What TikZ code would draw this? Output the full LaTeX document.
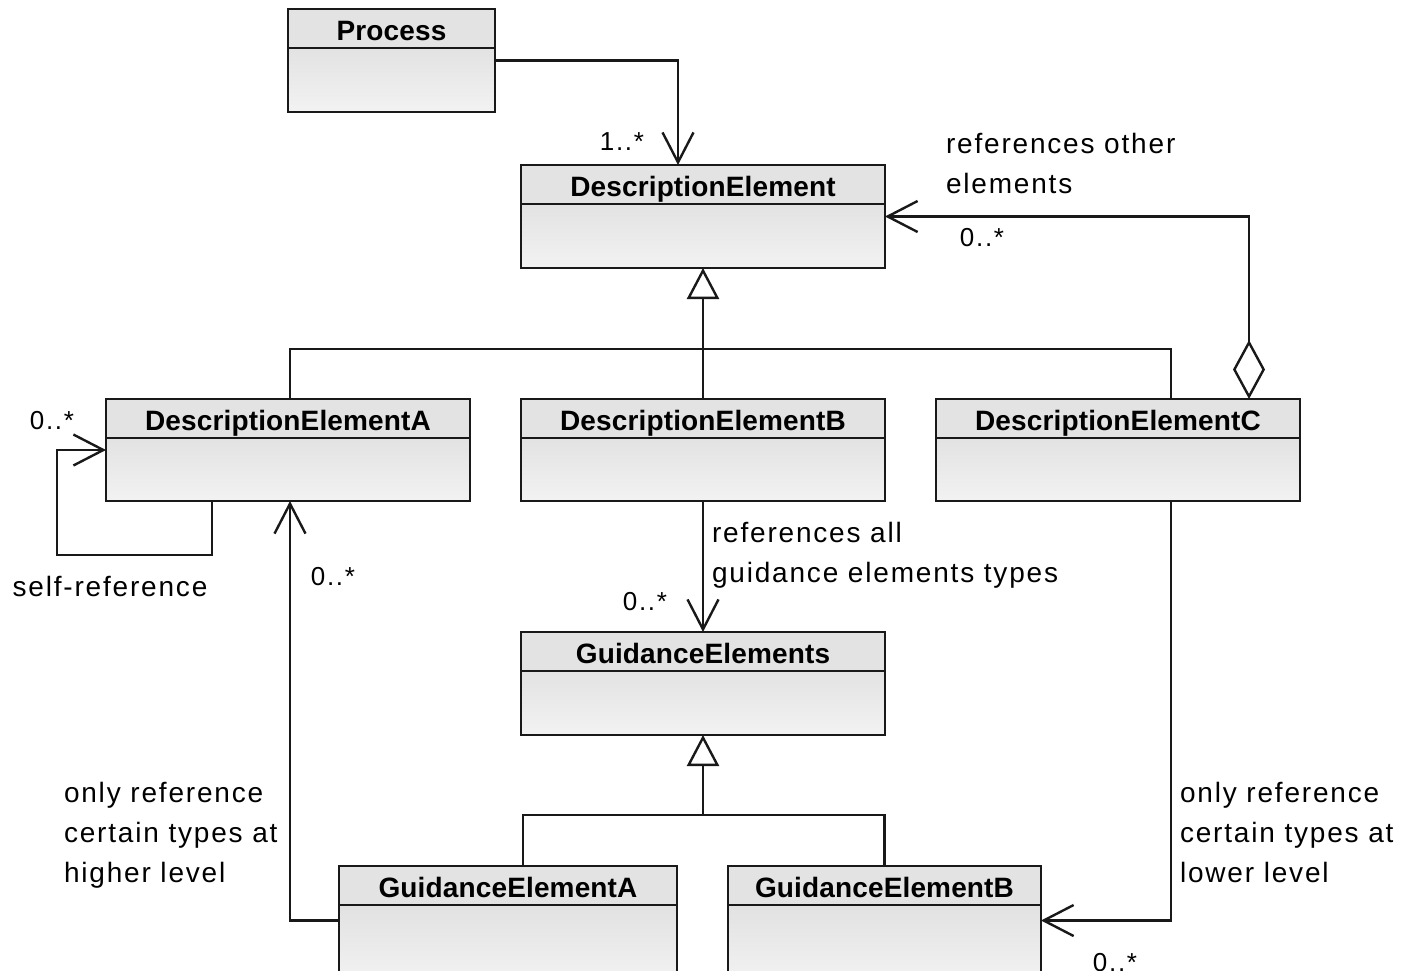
\documentclass[tikz,border=0pt]{standalone}
\usepackage{fontspec}
\setmainfont{Liberation Sans}
\newfontfamily\titlefont[LetterSpace=0.5]{Liberation Sans}
\newfontfamily\notefont[LetterSpace=6.5]{Liberation Sans}
\usetikzlibrary{arrows.meta}

% UML class: body with gradient, header with class name
\newcommand\umlclass[6]{%
  \node[classbody, minimum width=#4pt, minimum height=#5pt, anchor=north west] (#1) at (#2,#3) {};
  \node[classhead, minimum width=#4pt, anchor=north west] (#1 head) at (#1.north west) {#6};
}

\begin{document}
\begin{tikzpicture}[x=1pt, y=-1pt, line width=2.4pt,
  every node/.style={inner sep=0pt, outer sep=0pt},
  classbody/.style={draw=black!90, top color=black!15, bottom color=black!5},
  classhead/.style={draw=black!90, fill=black!11, minimum height=39pt,
    text height=24pt, text depth=0pt,
    font=\titlefont\bfseries\fontsize{28}{32}\selectfont},
  note/.style={font=\notefont\fontsize{28}{40}\selectfont, align=left},
  mult/.style={font=\notefont\fontsize{26}{30}\selectfont},
  assoc/.style={draw=black!90, -{Straight Barb[length=30pt, width=31pt, line width=2.4pt]}},
  gen/.style={draw=black!90, -{Triangle[open, length=31pt, width=32pt, fill=white, line width=2.4pt]}},
  aggr/.style={draw=black!90, {Diamond[open, length=59pt, width=32pt, fill=white, line width=2.4pt]}-{Straight Barb[length=30pt, width=31pt, line width=2.4pt]}},
  tree/.style={draw=black!90}
]
\useasboundingbox (0,0) rectangle (1402,970);

% classes
\umlclass{proc}{288}{9}{207}{103}{Process}
\umlclass{de}{521}{165}{364}{103}{DescriptionElement}
\umlclass{dea}{106}{399}{364}{102}{DescriptionElementA}
\umlclass{deb}{521}{399}{364}{102}{DescriptionElementB}
\umlclass{dec}{936}{399}{364}{102}{DescriptionElementC}
\umlclass{ge}{521}{632}{364}{103}{GuidanceElements}
\umlclass{gea}{339}{866}{338}{115}{GuidanceElementA}
\umlclass{geb}{728}{866}{313}{115}{GuidanceElementB}

% Process -> DescriptionElement
\draw[assoc] (proc.east) -| ([xshift=-25pt]de.north);
\node[mult] (m1) at (622,142) {1..*};

% aggregation from DescriptionElementC
\draw[aggr] ([xshift=131pt]dec.north) |- (de.east);
\node[note, anchor=north west] (n1) at (946,133) {references other\\elements};
\node[mult] (m2) at (982,238) {0..*};

% generalization of DescriptionElement
\coordinate (dejoin) at ([yshift=50pt]deb.north);
\draw[gen] (deb.north) -- (de.south);
\draw[tree] ([xshift=2pt]dea.north) |- (dejoin) -| ([xshift=53pt]dec.north);

% self reference of DescriptionElementA
\draw[assoc] ([xshift=-76pt]dea.south) |- ++(-155,54) |- (dea.west);
\node[mult] (m3) at (52,421) {0..*};
\node[note, anchor=center] (n2) at (110,586) {self-reference};

% GuidanceElementA -> DescriptionElementA
\draw[assoc] ([yshift=3pt]gea.west) -| ([xshift=2pt]dea.south);
\node[mult] (m4) at (333,577) {0..*};
\node[note, anchor=north west] (n3) at (64,782) {only reference\\certain types at\\higher level};

% DescriptionElementB -> GuidanceElements
\draw[assoc] (deb.south) -- (ge.north);
\node[note, anchor=north west] (n4) at (712,522) {references all\\guidance elements types};
\node[mult] (m5) at (645,602) {0..*};

% generalization of GuidanceElements
\coordinate (gejoin) at ([yshift=-80pt]ge.south);
\draw[gen] (gejoin) -- (ge.south);
\draw[tree] ([xshift=15pt]gea.north) |- (gejoin) -| (geb.north);

% DescriptionElementC -> GuidanceElementB
\draw[assoc] ([xshift=53pt]dec.south) |- ([yshift=3pt]geb.west -| geb.east);
\node[note, anchor=north west] (n5) at (1180,782) {only reference\\certain types at\\lower level};
\node[mult] (m6) at (1115,963) {0..*};
\end{tikzpicture}
\end{document}
